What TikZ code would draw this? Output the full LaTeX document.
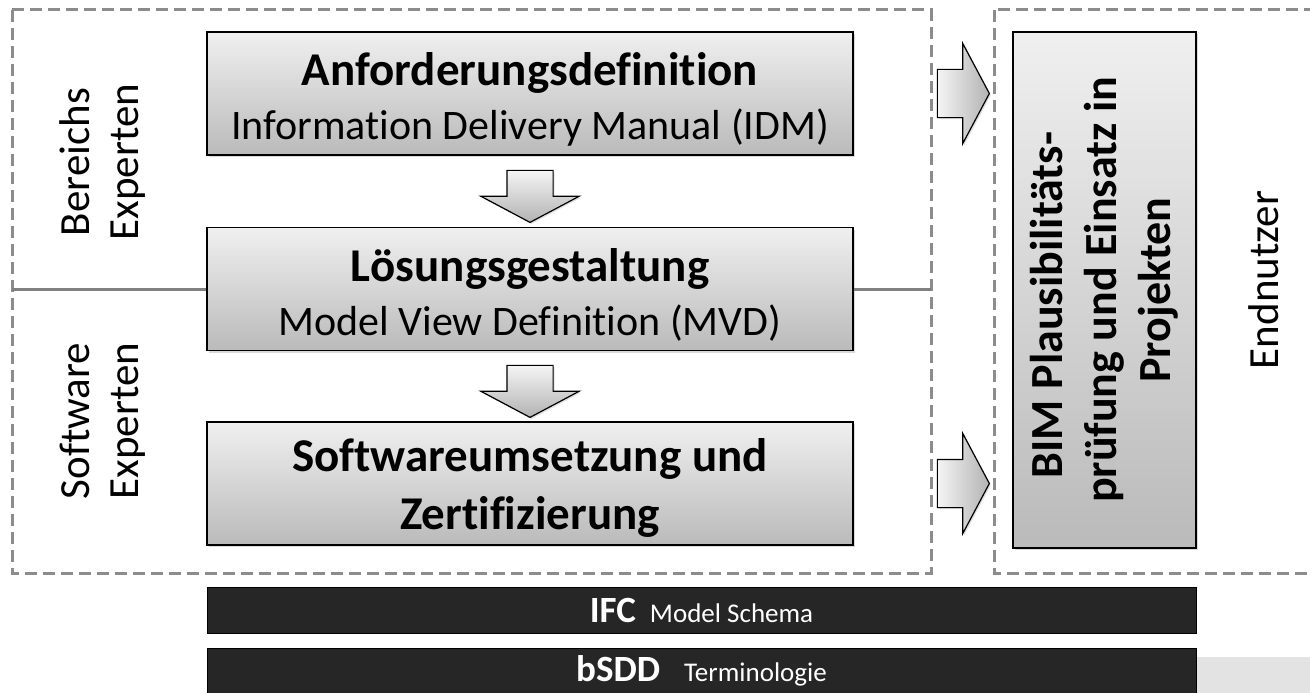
\documentclass[tikz,border=0pt]{standalone}
\usepackage{fontspec}
\setmainfont{Carlito}[Ligatures={NoCommon}]
\usetikzlibrary{positioning, calc, shapes.arrows, shadows}

\begin{document}
\begin{tikzpicture}[x=1pt, y=-1pt,
    stepbox/.style={draw=black, line width=1.5pt, top color=black!6, bottom color=black!27, minimum width=646pt, minimum height=123pt, align=center, drop shadow={opacity=0.3, shadow xshift=2pt, shadow yshift=-2pt}},
    blockarrow/.style={single arrow, draw=black, line width=1.2pt, minimum width=97pt, minimum height=52pt, single arrow head extend=26pt, single arrow tip angle=124, drop shadow={opacity=0.25, shadow xshift=1.5pt, shadow yshift=-1.5pt}},
    downarrow/.style={blockarrow, shape border rotate=270, inner xsep=22.5pt, inner ysep=0pt, top color=black!4, bottom color=black!30},
    rightarrow/.style={blockarrow, inner xsep=0pt, inner ysep=23.5pt, minimum width=95pt, left color=black!4, right color=black!30},
    zone/.style={draw=black!45, line width=3pt, dash pattern=on 12pt off 6pt},
    bar/.style={draw=black, fill=black!85, line width=1pt, minimum width=989pt, minimum height=46pt, text=white},
    role/.style={rotate=90, align=center, font=\fontsize{43}{49}\selectfont}]
  \useasboundingbox (0,0) rectangle (1310,693);
  \fill[black!11] (1196,657) rectangle (1330,700);
  \draw[zone] (12,10) rectangle (931,573);
  \draw[zone] (994,10) rectangle (1330,573);
  \coordinate (dl) at (12,289);
  \coordinate (dr) at (931,289);
  \node[stepbox, font=\fontsize{42}{54}\selectfont] (req) at (530,93.5) {\rule{0pt}{44pt}{\fontsize{47}{54}\selectfont\bfseries Anforderungsdefinition}\\Information Delivery Manual (IDM)};
  \node[stepbox, font=\fontsize{42}{54}\selectfont, below=71pt of req] (sol) {\rule{0pt}{44pt}{\fontsize{47}{54}\selectfont\bfseries Lösungsgestaltung}\\Model View Definition (MVD)};
  \node[stepbox, font=\fontsize{47}{58}\selectfont\bfseries, below=70pt of sol] (impl) {\rule{0pt}{42pt}Softwareumsetzung und\\Zertifizierung};
  \draw[black!50, line width=3pt] (dl) -- (sol.west);
  \draw[black!50, line width=3pt] (sol.east) -- (dr);
  \node[downarrow] (a1) at ($(req.south)!0.5!(sol.north)+(0,-1)$) {};
  \node[downarrow] (a2) at ($(sol.south)!0.5!(impl.north)+(0,-1)$) {};
  \node[rightarrow, right=83pt of req] (a3) {};
  \node[rightarrow, right=83pt of impl] (a4) {};
  \node[draw=black, line width=1.5pt, rotate=90, minimum width=516pt, minimum height=183pt, top color=black!6, bottom color=black!27, align=center, font=\fontsize{46}{54}\selectfont\bfseries, drop shadow={opacity=0.3, shadow xshift=2pt, shadow yshift=-2pt}] (plaus) at (1104.5,290) {BIM Plausibilitäts-\hspace*{30pt}\\prüfung und Einsatz in\\Projekten};
  \node[role] (dom) at (103,162) {Bereichs\\Experten};
  \node[role] (sw) at (103,421) {Software\\Experten};
  \node[role] (user) at (1264,280) {Endnutzer};
  \node[bar] (ifc) at (701.5,610) {{\fontsize{37}{40}\selectfont\bfseries IFC}\hspace{14pt}{\fontsize{27}{30}\selectfont Model Schema}};
  \node[bar, below=14pt of ifc] (bsdd) {{\fontsize{37}{40}\selectfont\bfseries bSDD}\hspace{24pt}{\fontsize{27}{30}\selectfont Terminologie}};
\end{tikzpicture}
\end{document}
